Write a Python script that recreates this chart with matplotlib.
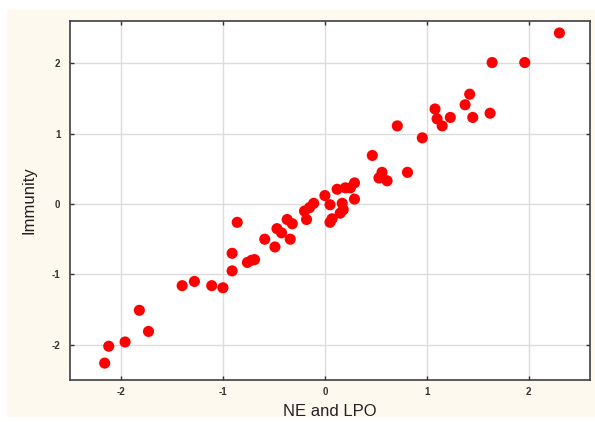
import matplotlib
matplotlib.use('Agg')
import matplotlib.pyplot as plt
from matplotlib.patches import Rectangle

# values
ne_lpo = [-2.16, -2.12, -1.96, -1.82, -1.73, -1.40, -1.28, -1.11, -1.00, -0.91,
          -0.91, -0.86, -0.76, -0.72, -0.69, -0.59, -0.49, -0.47, -0.425, -0.34,
          -0.37, -0.32, -0.20, -0.18, -0.15, -0.11, 0.00, 0.05, 0.05, 0.07,
          0.15, 0.18, 0.17, 0.12, 0.20, 0.25, 0.29, 0.29, 0.465, 0.53,
          0.56, 0.61, 0.81, 0.71, 0.955, 1.08, 1.10, 1.15, 1.23, 1.375,
          1.42, 1.45, 1.62, 1.64, 1.96, 2.30]
immunity = [-2.26, -2.02, -1.96, -1.51, -1.81, -1.16, -1.10, -1.16, -1.19, -0.95,
            -0.70, -0.26, -0.83, -0.80, -0.79, -0.50, -0.61, -0.35, -0.41, -0.50,
            -0.22, -0.28, -0.10, -0.22, -0.05, 0.01, 0.12, -0.01, -0.26, -0.21,
            -0.13, -0.08, 0.01, 0.21, 0.23, 0.23, 0.30, 0.07, 0.69, 0.37,
            0.45, 0.33, 0.45, 1.11, 0.94, 1.35, 1.21, 1.11, 1.23, 1.41,
            1.56, 1.23, 1.29, 2.01, 2.01, 2.43]
ticks = [-2, -1, 0, 1, 2]

plt.rcParams['font.family'] = ['Liberation Sans', 'DejaVu Sans']
plt.rcParams['axes.unicode_minus'] = False

fig = plt.figure(figsize=(5.95, 4.22), dpi=100)
fig.patch.set_facecolor('white')
# cream panel behind the plot
fig.add_artist(Rectangle((7 / 595, 5 / 422), 1 - 7 / 595, 1 - 15 / 422,
                         transform=fig.transFigure, facecolor='#fef9ee',
                         edgecolor='none', zorder=-10))

ax = fig.add_axes([70 / 595, 1 - 380 / 422, 520 / 595, 359 / 422])
ax.set_facecolor('white')
ax.scatter(ne_lpo, immunity, s=64, color='#ff0000', edgecolors='none', zorder=3)

ax.set_xlim(-2.5, 2.6)
ax.set_ylim(-2.5, 2.6)
ax.set_xticks(ticks)
ax.set_yticks(ticks)
ax.grid(True, color='#dcdcdc', linewidth=1)
ax.set_axisbelow(True)
ax.tick_params(direction='in', length=3, width=1, top=True, right=True,
               labelsize=7, colors='#333333')
ax.tick_params(axis='x', pad=5)
ax.tick_params(axis='y', pad=7)
for lab in ax.get_xticklabels() + ax.get_yticklabels():
    lab.set_fontweight('bold')
for sp in ax.spines.values():
    sp.set_color('#404040')
    sp.set_linewidth(1.2)

ax.set_xlabel('NE and LPO', fontsize=12, color='#222222', labelpad=5)
ax.set_ylabel('Immunity', fontsize=12, color='#222222', labelpad=11)

plt.savefig('out.png', dpi=100)
